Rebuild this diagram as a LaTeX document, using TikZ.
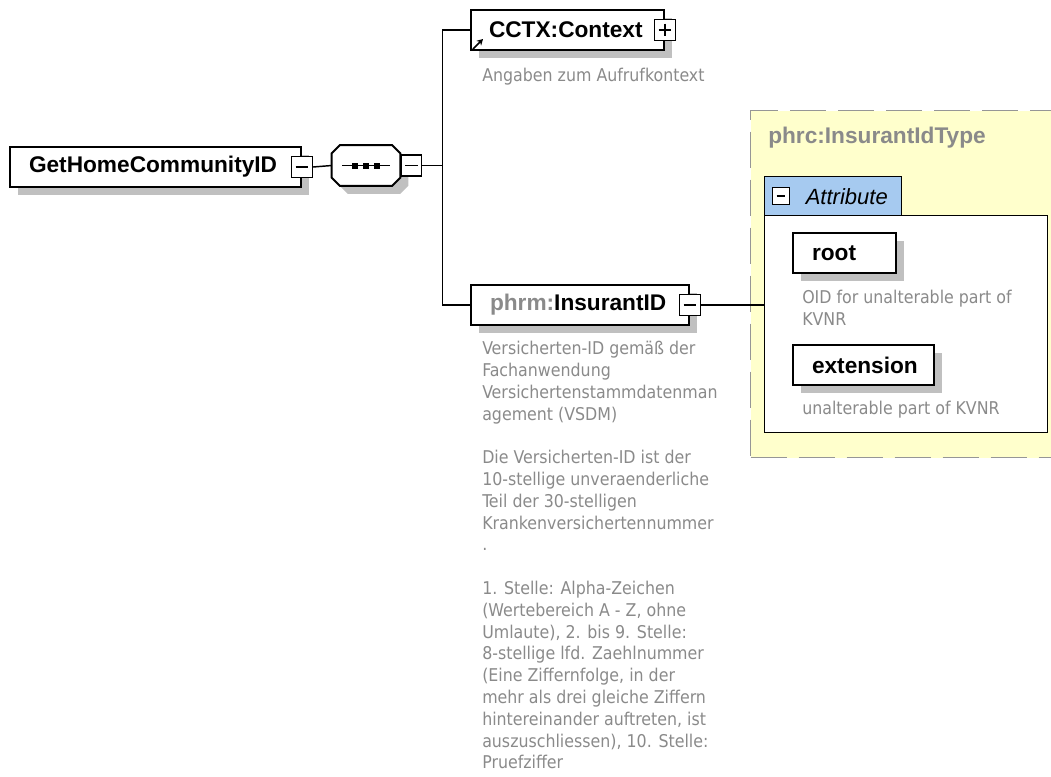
\documentclass[tikz,border=0pt]{standalone}
\usepackage{fontspec}
\setmainfont{Liberation Sans}
\newfontfamily\descfont{DejaVu Sans Condensed}
\usetikzlibrary{shadows,calc,arrows.meta}

\definecolor{shadowgray}{RGB}{192,192,192}
\definecolor{descgray}{RGB}{138,138,138}
\definecolor{typeyellow}{RGB}{255,255,204}
\definecolor{tabblue}{RGB}{166,202,240}
\definecolor{dashgray}{RGB}{150,150,150}

\tikzset{
  labelfont/.style={font=\bfseries\fontsize{17pt}{19pt}\selectfont},
  elembox/.style={draw=black, line width=1.5pt, fill=white, rectangle,
    inner ysep=0pt, minimum height=30pt, align=left, labelfont,
    general shadow={fill=shadowgray, shadow xshift=6pt, shadow yshift=-6pt}},
  seqshape/.style={draw=black, line width=1.5pt, fill=white,
    general shadow={fill=shadowgray, shadow xshift=6pt, shadow yshift=-6pt}},
  conn/.style={draw=black, line width=1.1pt},
  btn/.style={draw=black, line width=1.1pt, fill=white, rectangle,
    minimum size=15.5pt, inner sep=0pt},
  minusbtn/.style={btn, path picture={
    \draw[line width=1.1pt] ($(path picture bounding box.west)+(3pt,0)$) --
      ($(path picture bounding box.east)+(-3pt,0)$);}},
  plusbtn/.style={btn, path picture={
    \draw[line width=1.1pt] ($(path picture bounding box.west)+(3pt,0)$) --
      ($(path picture bounding box.east)+(-3pt,0)$);
    \draw[line width=1.1pt] ($(path picture bounding box.north)+(0,-3pt)$) --
      ($(path picture bounding box.south)+(0,3pt)$);}},
  doc/.style={font=\descfont\fontsize{13.2pt}{16.35pt}\selectfont,
    text=descgray, inner sep=0pt, align=left, anchor=north west},
  typebox/.style={draw=dashgray, line width=1.1pt, dash pattern=on 27pt off 9pt,
    fill=typeyellow, rectangle, anchor=north west, inner sep=0pt},
}

\begin{document}
\begin{tikzpicture}[x=0.75pt, y=-0.75pt]
\useasboundingbox (0,0) rectangle (1051,776);
\clip (0,0) rectangle (1051,776);

% complex type of the insurant id
\node[typebox, minimum width=240pt, minimum height=260.25pt] (itype) at (750,110) {};
\node[anchor=west, inner sep=0pt, labelfont, text=descgray] (itype-name) at (768,138) {phrc:InsurantIdType};

% attribute group
\node[draw=black, line width=1.1pt, fill=white, anchor=north west, inner sep=0pt,
      minimum width=212.25pt, minimum height=162.75pt] (attrbox) at (764,215) {};
\node[draw=black, line width=1.1pt, fill=tabblue, anchor=north west, inner ysep=0pt,
      inner xsep=10.5pt, text width=81.75pt, align=right, minimum height=29.25pt,
      font=\itshape\fontsize{16.5pt}{19pt}\selectfont] (attrtab) at (764,176) {Attribute};
\node[minusbtn, minimum size=12.5pt] (attr-btn) at (781,196) {};

\node[elembox, anchor=north west, inner xsep=14.25pt, text width=48.75pt] (root) at (792,232) {root};
\node[doc] (root-doc) at (802,290) {OID for unalterable part of\\KVNR};
\node[elembox, anchor=north west, inner xsep=14.25pt, text width=77.25pt] (ext) at (792,344) {extension};
\node[doc] (ext-doc) at (802,401) {unalterable part of KVNR};

% root element and its sequence
\node[elembox, anchor=north west, inner xsep=14.25pt, text width=189.75pt] (gh) at (9,146) {GetHomeCommunityID};
\node[minusbtn] (gh-btn) at (gh.east) {};

\node[minimum width=51pt, minimum height=30pt, inner sep=0pt] (seq) at (366,165.5) {};
\draw[seqshape] ($(seq.north west)+(8,0)$) -- ($(seq.north east)+(-8,0)$)
  -- ($(seq.north east)+(0,8)$) -- ($(seq.south east)+(0,-8)$)
  -- ($(seq.south east)+(-8,0)$) -- ($(seq.south west)+(8,0)$)
  -- ($(seq.south west)+(0,-8)$) -- ($(seq.north west)+(0,8)$) -- cycle;
\draw[line width=1.1pt] ($(seq.center)+(-24,0)$) -- ($(seq.center)+(24,0)$);
\foreach \dx in {-11,0,11}
  \fill ($(seq.center)+(\dx,0)+(-3,-3)$) rectangle ++(6,6);
\node[minusbtn, anchor=west] (seq-btn) at (seq.east) {};

% child elements
\node[elembox, anchor=north west, inner xsep=13.5pt, text width=117.75pt] (cctx) at (470,9) {CCTX:Context};
\node[plusbtn] (cctx-btn) at (cctx.east) {};
\draw[line width=1.2pt, -{Stealth[length=4.5pt,width=5pt]}] ([shift={(3,-2)}]cctx.south west) -- ++(10,-10);
\node[doc] (cctx-doc) at (482,68) {Angaben zum Aufrufkontext};

\node[elembox, anchor=north west, inner xsep=14.25pt, text width=135pt] (ins) at (470,284) {{\color{descgray}phrm:}InsurantID};
\node[minusbtn] (ins-btn) at (ins.east) {};
\node[doc] (ins-doc) at (482,341) {Versicherten-ID gemäß der\\
Fachanwendung\\
Versichertenstammdatenman\\
agement (VSDM)\\
~\\
Die Versicherten-ID ist der\\
10-stellige unveraenderliche\\
Teil der 30-stelligen\\
Krankenversichertennummer\\
.\\
~\\
1. Stelle: Alpha-Zeichen\\
(Wertebereich A - Z, ohne\\
Umlaute), 2. bis 9. Stelle:\\
8-stellige lfd. Zaehlnummer\\
(Eine Ziffernfolge, in der\\
mehr als drei gleiche Ziffern\\
hintereinander auftreten, ist\\
auszuschliessen), 10. Stelle:\\
Pruefziffer};

% connectors
\coordinate (bus) at ($(seq-btn.east)+(20,0)$);
\draw[conn] (gh-btn.east) -- (seq.west);
\draw[conn] (seq-btn.east) -- (bus);
\draw[conn] (bus) |- (cctx.west);
\draw[conn] (bus) |- (ins.west);
\draw[conn] (ins-btn.east) -- (ins-btn.east -| attrbox.west);
\end{tikzpicture}
\end{document}
